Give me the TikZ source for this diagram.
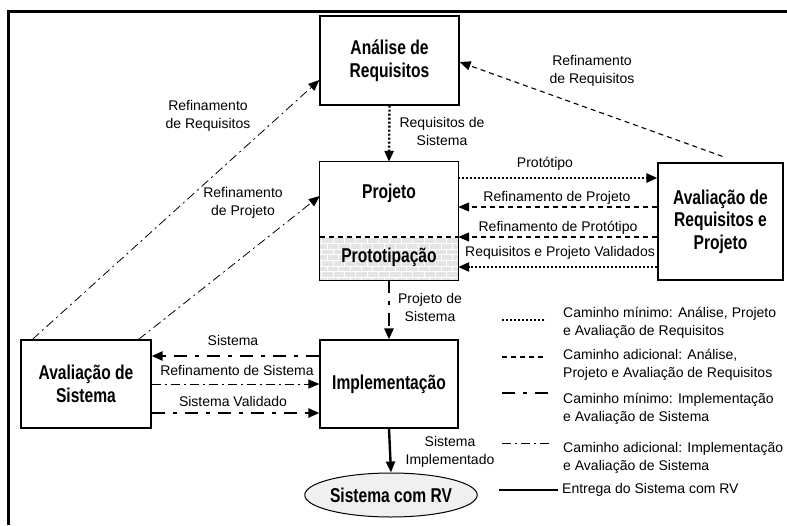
\documentclass[tikz,border=0pt]{standalone}
\usepackage{fontspec}
\setmainfont{Liberation Sans}
\newfontfamily\boxFont[FakeStretch=0.78]{Liberation Sans}
\usetikzlibrary{arrows.meta,patterns,shapes.geometric}

\begin{document}
\begin{tikzpicture}[x=1pt, y=-1pt,
    every node/.style={font=\fontsize{14}{18}\selectfont, align=center, inner sep=0pt},
    block/.style={draw=borderColour, line width=1.2pt, rectangle},
    blockText/.style={font=\boxFont\bfseries\fontsize{20}{22.5}\selectfont},
    >={Triangle[length=11pt,width=9pt]},
    minPath/.style={line width=2.4pt, dash pattern=on 2pt off 2pt},
    addPath/.style={line width=1.1pt, dash pattern=on 5pt off 4pt},
    minSys/.style={line width=2.4pt, dash pattern=on 13pt off 8pt on 4pt off 8pt},
    addSys/.style={line width=0.8pt, dash pattern=on 9pt off 4pt on 2pt off 4pt},
    delivery/.style={line width=2.4pt}]
    \definecolor{borderColour}{HTML}{000000}
    \definecolor{fillColour}{HTML}{E4E4E4}
    \definecolor{ellipseColour}{HTML}{F0F0F0}

    \useasboundingbox (0,0) rectangle (787,525);
    \draw[line width=2.5pt] (8.5,525) -- (8.5,11.5) -- (787,11.5);

    \node[block, blockText, minimum width=139pt, minimum height=89pt] (ana) at (389.5,60.5) {Análise de\\Requisitos};
    \node[minimum width=138pt, minimum height=118pt] (proj) at (389,221) {};
    \fill[fillColour] (proj.west |- 0,237) rectangle (proj.south east);
    \fill[pattern=bricks, pattern color=white] (proj.west |- 0,237) rectangle (proj.south east);
    \draw[addPath] (proj.west |- 0,237) -- (proj.east |- 0,237);
    \draw[block] (proj.north west) rectangle (proj.south east);
    \node[blockText] (projTitle) at (389,193) {Projeto};
    \node[blockText] (protTitle) at (389,257) {Prototipação};
    \node[block, blockText, minimum width=125pt, minimum height=117pt] (avrp) at (720.5,221.5) {Avaliação de\\Requisitos e\\Projeto};
    \node[block, blockText, minimum width=130pt, minimum height=88pt] (avs) at (86,384) {Avaliação de\\Sistema};
    \node[block, blockText, minimum width=138pt, minimum height=88pt] (impl) at (389,384) {Implementação};
    \node[ellipse, draw=borderColour, line width=1pt, fill=ellipseColour, blockText, minimum width=142pt, minimum height=44pt] (rv) at (391,495) {Sistema com RV};

    \draw[minPath,->] (ana.south) -- (proj.north);
    \node (reqSis) at (442,131) {Requisitos de\\Sistema};

    \draw[minPath,->] (proj.east |- 0,178) -- (avrp.west |- 0,178);
    \node (protLbl) at (545,164) {Protótipo};
    \draw[addPath,->] (avrp.west |- 0,207) -- (proj.east |- 0,207);
    \node (refProjLbl) at (557,198) {Refinamento de Projeto};
    \draw[addPath,->] (avrp.west |- 0,237) -- (proj.east |- 0,237);
    \node (refProtLbl) at (558,228) {Refinamento de Protótipo};
    \draw[minPath,->] (avrp.west |- 0,267) -- (proj.east |- 0,267);
    \node (valLbl) at (560,253) {Requisitos e Projeto Validados};

    \draw[addPath,->] ([xshift=2pt,yshift=6pt]avrp.north) -- (ana.east |- 0,62);
    \node (refReqRight) at (592,71) {Refinamento\\de Requisitos};

    \draw[addSys,->] ([xshift=12pt]avs.north west) -- (ana.west |- 0,80);
    \node (refReqLeft) at (208,116) {Refinamento\\de Requisitos};
    \draw[addSys,->] ([xshift=-13pt]avs.north east) -- (proj.west |- 0,196);
    \node (refProjLeft) at (243,203) {Refinamento\\de Projeto};

    \draw[minSys,->] (proj.south) -- (impl.north);
    \node (projSis) at (430,307) {Projeto de\\Sistema};

    \draw[minSys,->] (impl.west |- 0,356) -- (avs.east |- 0,356);
    \node (sisLbl) at (233,340) {Sistema};
    \draw[addSys,->] (avs.east |- 0,384) -- (impl.west |- 0,384);
    \node (refSisLbl) at (237,370) {Refinamento de Sistema};
    \draw[minSys,->] (avs.east |- 0,413) -- (impl.west |- 0,413);
    \node (sisValLbl) at (233,401) {Sistema Validado};

    \draw[delivery,->] (impl.south) -- (rv.north);
    \node (sisImpl) at (450,452) {Sistema\\Implementado};

    \coordinate (keyA) at (502,320);
    \coordinate (keyB) at (502,357);
    \coordinate (keyC) at (502,393);
    \coordinate (keyD) at (502,443);
    \coordinate (keyE) at (499,490);
    \draw[minPath] (keyA) -- ++(44,0);
    \draw[addPath] (keyB) -- ++(44,0);
    \draw[minSys] (keyC) -- ++(46,0);
    \draw[addSys] (keyD) -- ++(47,0);
    \draw[delivery] (keyE) -- ++(59,0);
    \node[anchor=west, align=left] (keyTextA) at (563,323) {Caminho mínimo: Análise, Projeto\\e Avaliação de Requisitos};
    \node[anchor=west, align=left] (keyTextB) at (563,365) {Caminho adicional: Análise,\\Projeto e Avaliação de Requisitos};
    \node[anchor=west, align=left] (keyTextC) at (563,409) {Caminho mínimo: Implementação\\e Avaliação de Sistema};
    \node[anchor=west, align=left] (keyTextD) at (563,458) {Caminho adicional: Implementação\\e Avaliação de Sistema};
    \node[anchor=west, align=left] (keyTextE) at (562,490) {Entrega do Sistema com RV};

\end{tikzpicture}
\end{document}
